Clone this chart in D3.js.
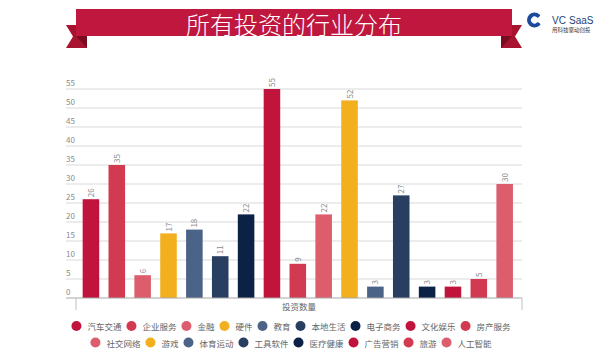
<!DOCTYPE html>
<html><head><meta charset="utf-8">
<script src="https://cdn.jsdelivr.net/npm/d3@7"></script>
<style>
html,body{margin:0;padding:0;background:#fff;}
svg{display:block;font-family:"Noto Sans CJK SC","Noto Sans",sans-serif;}
</style></head>
<body>
<svg id="chart" width="600" height="357"></svg>
<script>
const title = "所有投资的行业分布";
const categories = ["汽车交通","企业服务","金融","硬件","教育","本地生活","电子商务","文化娱乐","房产服务","社交网络","游戏","体育运动","工具软件","医疗健康","广告营销","旅游","人工智能"];
const values = [26,35,6,17,18,11,22,55,9,22,52,3,27,3,3,5,30];
const palette = ["#C0143C","#D13A50","#DC5E6D","#F2AF1E","#4B6386","#283F62","#0C2146"];
const yTicks = [0,5,10,15,20,25,30,35,40,45,50,55];
const xAxisLabel = "投资数量";
const legendRows = [9, 8];

const svg = d3.select("#chart");

// ---- title banner ----
const banner = svg.append("g");
banner.append("polygon").attr("points","66,25 87,25 87,48 66,48 73,36.5").attr("fill","#A8142F");
banner.append("polygon").attr("points","76,36 87,36 87,48").attr("fill","#7A0C22");
banner.append("polygon").attr("points","522,25 501,25 501,48 522,48 515,36.5").attr("fill","#A8142F");
banner.append("polygon").attr("points","512,36 501,36 501,48").attr("fill","#7A0C22");
banner.append("rect").attr("x",76).attr("y",9).attr("width",436).attr("height",27).attr("fill","#C0173F");
banner.append("text").attr("x",294).attr("y",23).attr("text-anchor","middle").attr("dominant-baseline","central")
  .attr("fill","#fff").attr("font-size",24).attr("font-weight",300).text(title);

// ---- logo ----
const logo = svg.append("g");
const arc = d3.arc().innerRadius(3.5).outerRadius(7.5).startAngle(Math.PI*0.68).endAngle(Math.PI*2.3).cornerRadius(1);
logo.append("path").attr("d",arc()).attr("transform","translate(534.5,20)").attr("fill","#1E4A9A");
logo.append("text").attr("x",552).attr("y",24).attr("font-size",10).attr("fill","#1E3F7A").attr("font-family","Liberation Sans Narrow, Liberation Sans, sans-serif").text("VC");
logo.append("text").attr("x",569).attr("y",24).attr("font-size",10).attr("fill","#1E3F7A").attr("font-family","Liberation Sans Narrow, Liberation Sans, sans-serif").text("SaaS");
logo.append("text").attr("x",552).attr("y",31.5).attr("font-size",5.5).attr("fill","#333").text("用科技驱动创投");

// ---- scales ----
const y = d3.scaleLinear().domain([0,55]).range([298,89]);
const x = d3.scaleBand().domain(categories).range([78,517.6]).paddingInner(0.36).paddingOuter(0.18);
const color = d3.scaleOrdinal().domain(categories).range(categories.map((c,i)=>palette[i%palette.length]));

// gridlines + labels
const grid = svg.append("g");
yTicks.forEach(t=>{
  if(t>0) grid.append("line").attr("x1",66).attr("x2",522).attr("y1",y(t)).attr("y2",y(t)).attr("stroke","#d9d9d9").attr("stroke-width",1);
  grid.append("text").attr("x",66).attr("y",y(t)-3).attr("font-size",8).attr("fill","#8a8a8a").text(t);
});

// bars
svg.append("g").selectAll("rect").data(categories).join("rect")
  .attr("x",d=>x(d)).attr("width",x.bandwidth())
  .attr("y",(d,i)=>y(values[i])).attr("height",(d,i)=>y(0)-y(values[i]))
  .attr("fill",d=>color(d));

// value labels
svg.append("g").selectAll("text").data(categories).join("text")
  .attr("transform",(d,i)=>`translate(${x(d)+x.bandwidth()/2+3},${y(values[i])-2}) rotate(-90)`)
  .attr("font-size",8).attr("fill","#8a8a8a").text((d,i)=>values[i]);

// x axis
const ax = svg.append("g");
ax.append("line").attr("x1",66).attr("x2",522).attr("y1",298).attr("y2",298).attr("stroke","#a6a6a6");
[76,522].forEach(v=>ax.append("line").attr("x1",v).attr("x2",v).attr("y1",298).attr("y2",310).attr("stroke","#bfbfbf"));
ax.append("text").attr("x",299).attr("y",310).attr("text-anchor","middle").attr("font-size",8.5).attr("fill","#666").text(xAxisLabel);

// legend
const leg = svg.append("g");
let idx = 0;
const rowY = [326, 342.5];
legendRows.forEach((n,r)=>{
  const items = categories.slice(idx, idx+n); idx += n;
  const g = leg.append("g");
  let cx = 0;
  items.forEach(c=>{
    g.append("circle").attr("cx",cx).attr("cy",0).attr("r",5).attr("fill",color(c));
    const t = g.append("text").attr("x",cx+11).attr("y",0).attr("dominant-baseline","central").attr("font-size",8.5).attr("fill","#666").text(c);
    cx += 11 + t.node().getComputedTextLength() + 10;
  });
  const total = cx - 10 + 5;
  g.attr("transform",`translate(${291 - total/2 + 5},${rowY[r]})`);
});
</script>
</body></html>
